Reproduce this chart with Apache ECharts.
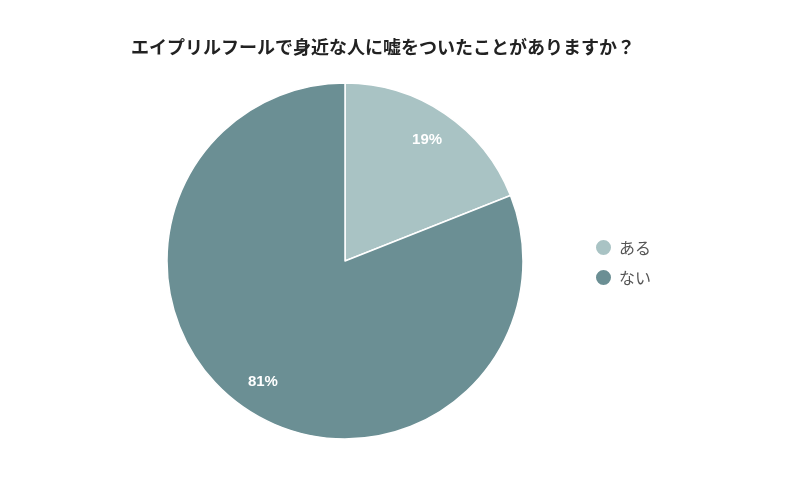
<!DOCTYPE html>
<html>
<head>
<meta charset="utf-8">
<script src="https://cdn.jsdelivr.net/npm/echarts@6/dist/echarts.min.js"></script>
<style>
html,body{margin:0;padding:0;background:#fff;}
#chart{width:811px;height:484px;}
</style>
</head>
<body>
<div id="chart"></div>
<script>
const titleText = 'エイプリルフールで身近な人に嘘をついたことがありますか？';
const categories = ['ある', 'ない'];
const values = [19, 81];
const colors = ['#a9c3c4', '#6b8f94'];

const chart = echarts.init(document.getElementById('chart'), null, {renderer: 'canvas'});
const font = '"Noto Sans CJK JP", "Noto Sans", sans-serif';
const pieData = categories.map((c, i) => ({name: c, value: values[i], itemStyle: {color: colors[i]}}));

chart.setOption({
  animation: false,
  backgroundColor: '#ffffff',
  title: {
    text: titleText,
    left: 126,
    top: 33,
    textStyle: {fontFamily: font, fontSize: 18, fontWeight: 'bold', color: '#222222'}
  },
  legend: {
    orient: 'vertical',
    left: 589,
    top: 233,
    icon: 'circle',
    itemWidth: 17,
    itemHeight: 17,
    itemGap: 11,
    data: categories.map((c, i) => ({name: c, itemStyle: {color: colors[i]}})),
    textStyle: {fontFamily: font, fontSize: 16, color: '#555555', padding: [0, 0, 0, 2]}
  },
  series: [
    {
      type: 'pie',
      center: [345, 261],
      radius: [0, 178],
      startAngle: 90,
      clockwise: true,
      label: {show: false},
      labelLine: {show: false},
      itemStyle: {borderColor: '#ffffff', borderWidth: 1.5},
      emphasis: {disabled: true},
      data: pieData
    },
    {
      type: 'pie',
      center: [345, 261],
      radius: [108, 178],
      startAngle: 90,
      clockwise: true,
      silent: true,
      legendHoverLink: false,
      itemStyle: {color: 'rgba(0,0,0,0)'},
      label: {
        show: true,
        position: 'inside',
        formatter: '{d}%',
        color: '#ffffff',
        fontFamily: '"Liberation Sans", Arial, sans-serif',
        fontSize: 15,
        fontWeight: 'bold'
      },
      labelLine: {show: false},
      emphasis: {disabled: true},
      data: categories.map((c, i) => ({name: c, value: values[i]}))
    }
  ]
});
</script>
</body>
</html>
